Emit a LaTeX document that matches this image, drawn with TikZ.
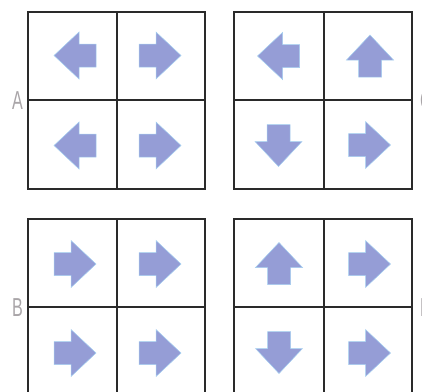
\documentclass[tikz,border=0pt]{standalone}
\usepackage{fontspec}
\setmainfont{Liberation Sans}
\definecolor{arrowfill}{HTML}{959DD6}
\definecolor{arrowedge}{HTML}{A4CFF0}
\definecolor{gridline}{HTML}{2A2A2A}
\definecolor{labelgray}{HTML}{A9A5A8}
\tikzset{
  arrowstyle/.style={fill=arrowfill, draw=arrowedge, line width=0.5pt, line join=miter},
  gridstyle/.style={draw=gridline, line width=1.2pt},
  labelstyle/.style={text=labelgray, font=\fontsize{26}{26}\selectfont, xscale=0.62, inner sep=0pt},
  dirarrow/.pic={\path[arrowstyle] (-21,-11.5) -- (-4,-11.5) -- (-4,-23.5) -- (21,0) -- (-4,23.5) -- (-4,11.5) -- (-21,11.5) -- cycle;}
}
\begin{document}
\begin{tikzpicture}[x=1pt,y=-1pt]
\useasboundingbox (0,0) rectangle (422,391);
% grid A
\draw[gridstyle] (28,12) rectangle (205,189);
\draw[gridstyle] (117,12) -- (117,189);
\draw[gridstyle] (28,100) -- (205,100);
% grid C
\draw[gridstyle] (234,12) rectangle (412,189);
\draw[gridstyle] (324,12) -- (324,189);
\draw[gridstyle] (234,100) -- (412,100);
% grid B
\draw[gridstyle] (28,219) rectangle (205,396);
\draw[gridstyle] (117,219) -- (117,396);
\draw[gridstyle] (28,307) -- (205,307);
% grid D
\draw[gridstyle] (234,219) rectangle (412,396);
\draw[gridstyle] (324,219) -- (324,396);
\draw[gridstyle] (234,307) -- (412,307);
% arrows A
\pic[rotate=180] at (75,55.5) {dirarrow};
\pic at (160,55.5) {dirarrow};
\pic[rotate=180] at (75,145.5) {dirarrow};
\pic at (160,145.5) {dirarrow};
% arrows C
\pic[rotate=180] at (278.5,56) {dirarrow};
\pic[rotate=90] at (370,56) {dirarrow};
\pic[rotate=-90] at (278.5,145.5) {dirarrow};
\pic at (369.5,145) {dirarrow};
% arrows B
\pic at (75,264) {dirarrow};
\pic at (160,264) {dirarrow};
\pic at (75,353) {dirarrow};
\pic at (160,353) {dirarrow};
% arrows D
\pic[rotate=90] at (279,263.5) {dirarrow};
\pic at (369.5,264) {dirarrow};
\pic[rotate=-90] at (279,352.5) {dirarrow};
\pic at (369.5,353) {dirarrow};
% labels
\node[labelstyle] (labA) at (17.5,100.5) {A};
\node[labelstyle] (labB) at (17.5,307.5) {B};
\node[labelstyle] (labC) at (426,100.5) {C};
\node[labelstyle] (labD) at (426,307.5) {D};
\end{tikzpicture}
\end{document}
